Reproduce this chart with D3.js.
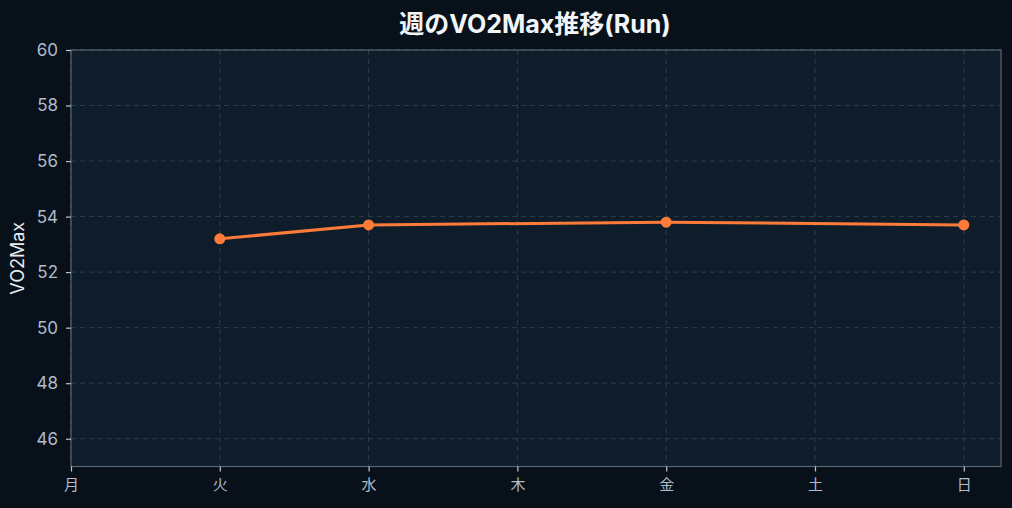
<!DOCTYPE html>
<html><head><meta charset="utf-8">
<script src="https://cdn.jsdelivr.net/npm/d3@7"></script>
<style>
html,body{margin:0;padding:0;background:#08111a;}
svg{display:block;font-family:Inter,"Noto Sans CJK JP",sans-serif;}
</style></head>
<body>
<svg id="c" width="1012" height="508"></svg>
<script>
const days = ["月","火","水","木","金","土","日"];
const pointDays = [1, 2, 4, 6];
const vo2 = [53.2, 53.7, 53.8, 53.7];
const yTicks = [46, 48, 50, 52, 54, 56, 58, 60];
const title = "週のVO2Max推移(Run)";
const yLabel = "VO2Max";

const W = 1012, H = 508;
const m = {l:71, r:11, t:50, b:41.5};
const svg = d3.select("#c");
svg.append("rect").attr("width",W).attr("height",H).attr("fill","#08111a");
const x = d3.scaleLinear().domain([0, 6.25]).range([m.l, W - m.r]);
const y = d3.scaleLinear().domain([45, 60]).range([H - m.b, m.t]);

svg.append("rect").attr("x",m.l).attr("y",m.t).attr("width",W-m.r-m.l).attr("height",H-m.b-m.t).attr("fill","#0f1d2a");

// grid
const g = svg.append("g");
g.selectAll(".hg").data(yTicks).join("line")
  .attr("x1",m.l).attr("x2",W-m.r).attr("y1",d=>y(d)).attr("y2",d=>y(d))
  .attr("stroke","#2c3d4b").attr("stroke-dasharray","5,4").attr("stroke-width",1);
g.selectAll(".vg").data(d3.range(days.length)).join("line")
  .attr("x1",d=>x(d)).attr("x2",d=>x(d)).attr("y1",m.t).attr("y2",H-m.b)
  .attr("stroke","#2c3d4b").attr("stroke-dasharray","5,4").attr("stroke-width",1);

// frame
svg.append("rect").attr("x",m.l).attr("y",m.t).attr("width",W-m.r-m.l).attr("height",H-m.b-m.t)
  .attr("fill","none").attr("stroke","#56656f").attr("stroke-width",1.2);

// axes
const xa = svg.append("g").attr("transform",`translate(0,${H-m.b})`)
  .call(d3.axisBottom(x).tickValues(d3.range(days.length)).tickFormat(i=>days[i]).tickSize(5).tickPadding(8));
const ya = svg.append("g").attr("transform",`translate(${m.l},0)`)
  .call(d3.axisLeft(y).tickValues(yTicks).tickSize(5).tickPadding(8));
[xa,ya].forEach(a=>{
  a.select(".domain").remove();
  a.attr("font-family",null).attr("font-size",null);
  a.selectAll(".tick line").attr("stroke","#b8c6d2").attr("stroke-width",1.2);
  a.selectAll(".tick text").attr("fill","#aebccb");
});
xa.selectAll(".tick text").style("font-size","15px");
ya.selectAll(".tick text").style("font-size","17px");

// line
const data = pointDays.map((d,i)=>({d, v:vo2[i]}));
svg.append("path").datum(data)
  .attr("d", d3.line().x(p=>x(p.d)).y(p=>y(p.v)))
  .attr("fill","none").attr("stroke","#ff7b3a").attr("stroke-width",3);
svg.selectAll(".pt").data(data).join("circle")
  .attr("cx",p=>x(p.d)).attr("cy",p=>y(p.v)).attr("r",5.5).attr("fill","#ff7b3a");

// title
svg.append("text").attr("x",535).attr("y",33).attr("text-anchor","middle")
  .attr("fill","#f2f5f8").style("font-size","25px").style("font-weight","bold").text(title);
svg.append("text").attr("transform",`translate(24,${(m.t+H-m.b)/2}) rotate(-90)`)
  .attr("text-anchor","middle").attr("fill","#e6ecf1").style("font-size","18px").text(yLabel);
</script>
</body></html>
